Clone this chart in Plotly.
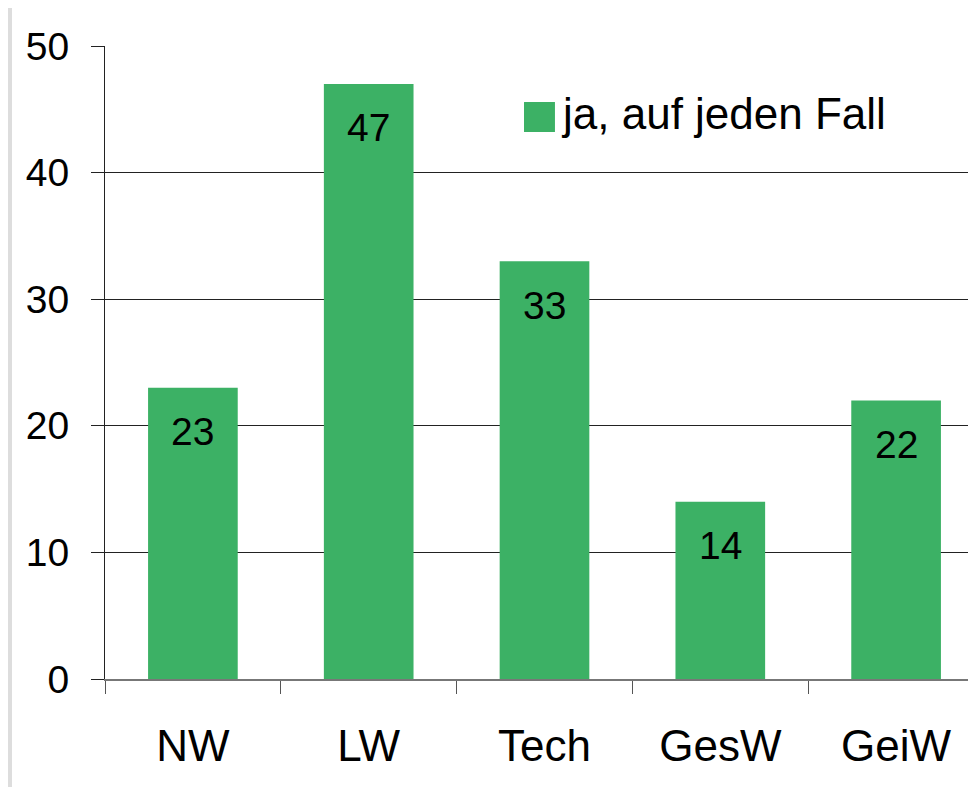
import plotly.graph_objects as go

# ----------------------
# Data
# ----------------------
categories = ["NW", "LW", "Tech", "GesW", "GeiW"]
values = [23, 47, 33, 14, 22]
series_name = "ja, auf jeden Fall"
y_ticks = [0, 10, 20, 30, 40, 50]

bar_color = "#3cb165"
font_family = "Liberation Sans, Arial, sans-serif"

fig = go.Figure()

fig.add_trace(
    go.Bar(
        x=categories,
        y=values,
        name=series_name,
        marker=dict(color=bar_color, line=dict(width=0)),
        width=0.51,
        showlegend=False,
    )
)

# value labels inside the bars, a bit below the top
for cat, val in zip(categories, values):
    fig.add_annotation(
        x=cat, y=val, text=str(val), showarrow=False,
        yanchor="middle", yshift=-44,
        font=dict(family=font_family, size=39, color="black"),
    )

# legend drawn by hand (large square swatch)
fig.add_shape(
    type="rect", xref="paper", yref="paper",
    x0=0.4767, x1=0.5119, y0=0.8641, y1=0.9115,
    fillcolor=bar_color, line=dict(width=0),
)
fig.add_annotation(
    xref="paper", yref="paper", x=0.5165, y=0.894,
    text=series_name, showarrow=False, xanchor="left", yanchor="middle",
    font=dict(family=font_family, size=44, color="black"),
)

# white slide panel over the grey background
fig.add_shape(
    type="rect", xref="paper", yref="paper", layer="below",
    x0=-0.1058, x1=1.02, y0=-0.2, y1=1.07,
    fillcolor="white", line=dict(width=0),
)

fig.update_layout(
    width=976,
    height=787,
    paper_bgcolor="#dddddd",
    plot_bgcolor="white",
    font=dict(family=font_family, color="black"),
    margin=dict(l=97, r=0, t=38, b=116),
    xaxis=dict(
        range=[-0.5, 4.5],
        showgrid=False,
        showline=True,
        linecolor="#777777",
        linewidth=2,
        ticks="outside",
        tickson="boundaries",
        ticklen=13,
        tickcolor="#555555",
        tickfont=dict(size=44),
        ticklabelstandoff=27,
    ),
    yaxis=dict(
        range=[0, 50],
        tickvals=y_ticks,
        showgrid=True,
        gridcolor="#222222",
        gridwidth=1,
        zeroline=False,
        showline=True,
        linecolor="#222222",
        linewidth=1,
        ticks="outside",
        ticklen=13,
        tickcolor="#222222",
        tickfont=dict(size=39),
        ticklabelstandoff=14,
    ),
)

fig.write_html("out.html")
